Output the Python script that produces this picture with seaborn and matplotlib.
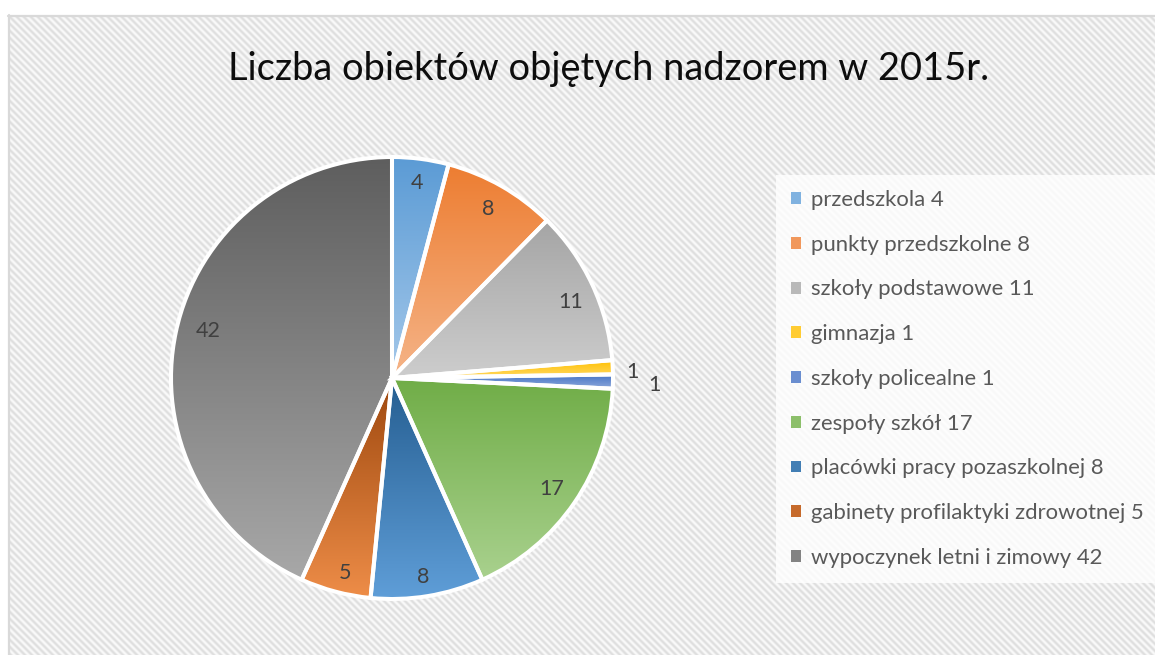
import numpy as np
import matplotlib
matplotlib.use("Agg")
import matplotlib.pyplot as plt
import matplotlib.colors as mcolors
from matplotlib.patches import Patch
import seaborn as sns

# ---- data ----
categories = ["przedszkola", "punkty przedszkolne", "szkoły podstawowe", "gimnazja",
              "szkoły policealne", "zespoły szkół", "placówki pracy pozaszkolnej",
              "gabinety profilaktyki zdrowotnej", "wypoczynek letni i zimowy"]
values = [4, 8, 11, 1, 1, 17, 8, 5, 42]
legend_labels = ["przedszkola 4", "punkty przedszkolne 8", "szkoły podstawowe 11",
                 "gimnazja 1", "szkoły policealne 1", "zespoły szkół 17",
                 "placówki pracy pozaszkolnej 8", "gabinety profilaktyki zdrowotnej 5",
                 "wypoczynek letni i zimowy 42"]
title = "Liczba obiektów objętych nadzorem w 2015r."

# ---- styles ----
top_colors = ["#5B9BD5", "#ED7D31", "#A5A5A5", "#FFC000", "#4472C4", "#70AD47",
              "#255E91", "#9E480E", "#5E5E5E"]
bottom_colors = ["#A4C8EA", "#F5B488", "#CDCDCD", "#FFD966", "#8FAADC", "#A9D18E",
                 "#5F9ED8", "#EE8D48", "#A8A8A8"]
label_r = [0.89, 0.88, 0.88, 1.09, 1.19, 0.88, 0.91, 0.91, 0.86]
label_dtheta = [0, 0, 2, 1.4, 0.6, 0.5, 0.5, -1.2, 2.3]  # clockwise degrees

sns.set_theme(style="white")
plt.rcParams["font.family"] = ["Lato", "DejaVu Sans"]

W, H = 1155, 655
fig = plt.figure(figsize=(W / 100, H / 100), dpi=100)
fig.patch.set_facecolor("white")

# ---- hatched background ----
bg = fig.add_axes([0, 0, 1, 1])
yy, xx = np.mgrid[0:H, 0:W]
v = 0.5 + 0.5 * np.cos(2 * np.pi * (xx - yy) / 7.0)
light = np.array(mcolors.to_rgb("#FAFAFA"))
dark = np.array(mcolors.to_rgb("#DEDEDE"))
img = light[None, None, :] * (1 - v[..., None]) + dark[None, None, :] * v[..., None]
img[:15, :, :] = 1.0
img[:, :8, :] = 1.0
bg.imshow(img, extent=(0, W, H, 0), interpolation="bilinear", aspect="auto")
bg.plot([8, W], [15.5, 15.5], color="#D9D9D9", lw=1.6)
bg.plot([8.5, 8.5], [15, H], color="#D9D9D9", lw=1.6)
bg.set_xlim(0, W)
bg.set_ylim(H, 0)
bg.axis("off")

# ---- title ----
fig.text(609 / W, 1 - 69 / H, title, ha="center", va="center",
         fontsize=27.4, color="#0D0D0D")

# ---- pie ----
cx, cy, R = 392, 378, 221
ax = fig.add_axes([(cx - R) / W, (H - cy - R) / H, 2 * R / W, 2 * R / H])
ax.set_facecolor("none")
wedges, _ = ax.pie(values, startangle=90, counterclock=False, radius=1,
                   colors=top_colors,
                   wedgeprops=dict(edgecolor="white", linewidth=2.9))

for w, ctop, cbot in zip(wedges, top_colors, bottom_colors):
    ext = w.get_path().get_extents()
    t = np.linspace(0, 1, 256)[:, None, None]
    c0 = np.array(mcolors.to_rgb(ctop))[None, None, :]
    c1 = np.array(mcolors.to_rgb(cbot))[None, None, :]
    grad = c0 * (1 - t) + c1 * t
    im = ax.imshow(grad, extent=(ext.x0, ext.x1, ext.y0, ext.y1), origin="upper",
                   aspect="auto", interpolation="bilinear", zorder=1)
    im.set_clip_path(w)
    w.set_facecolor("none")
    w.set_zorder(2)

for w, val, r, dt in zip(wedges, values, label_r, label_dtheta):
    ang = np.deg2rad((w.theta1 + w.theta2) / 2 - dt)
    ax.text(r * np.cos(ang), r * np.sin(ang), str(val), ha="center", va="center",
            fontsize=15.5, color="#404040", zorder=3)

ax.set_xlim(-1, 1)
ax.set_ylim(-1, 1)
ax.set_aspect("equal")
ax.axis("off")

# ---- legend ----
handles = [Patch(facecolor=mcolors.to_hex(0.5 * np.array(mcolors.to_rgb(a)) + 0.5 * np.array(mcolors.to_rgb(b))),
                 edgecolor="none") for a, b in zip(top_colors, bottom_colors)]
leg = fig.legend(handles, legend_labels, loc="upper left",
                 bbox_to_anchor=(776 / W, 1 - 175 / H), frameon=True,
                 fontsize=15.9, labelcolor="#595959",
                 handlelength=0.45, handleheight=0.45, handletextpad=0.45,
                 labelspacing=1.12, borderpad=0.68, borderaxespad=0,
                 fancybox=False)
leg.get_frame().set_facecolor((1, 1, 1, 0.35))
leg.get_frame().set_edgecolor("none")

fig.savefig("out.png", dpi=100)
